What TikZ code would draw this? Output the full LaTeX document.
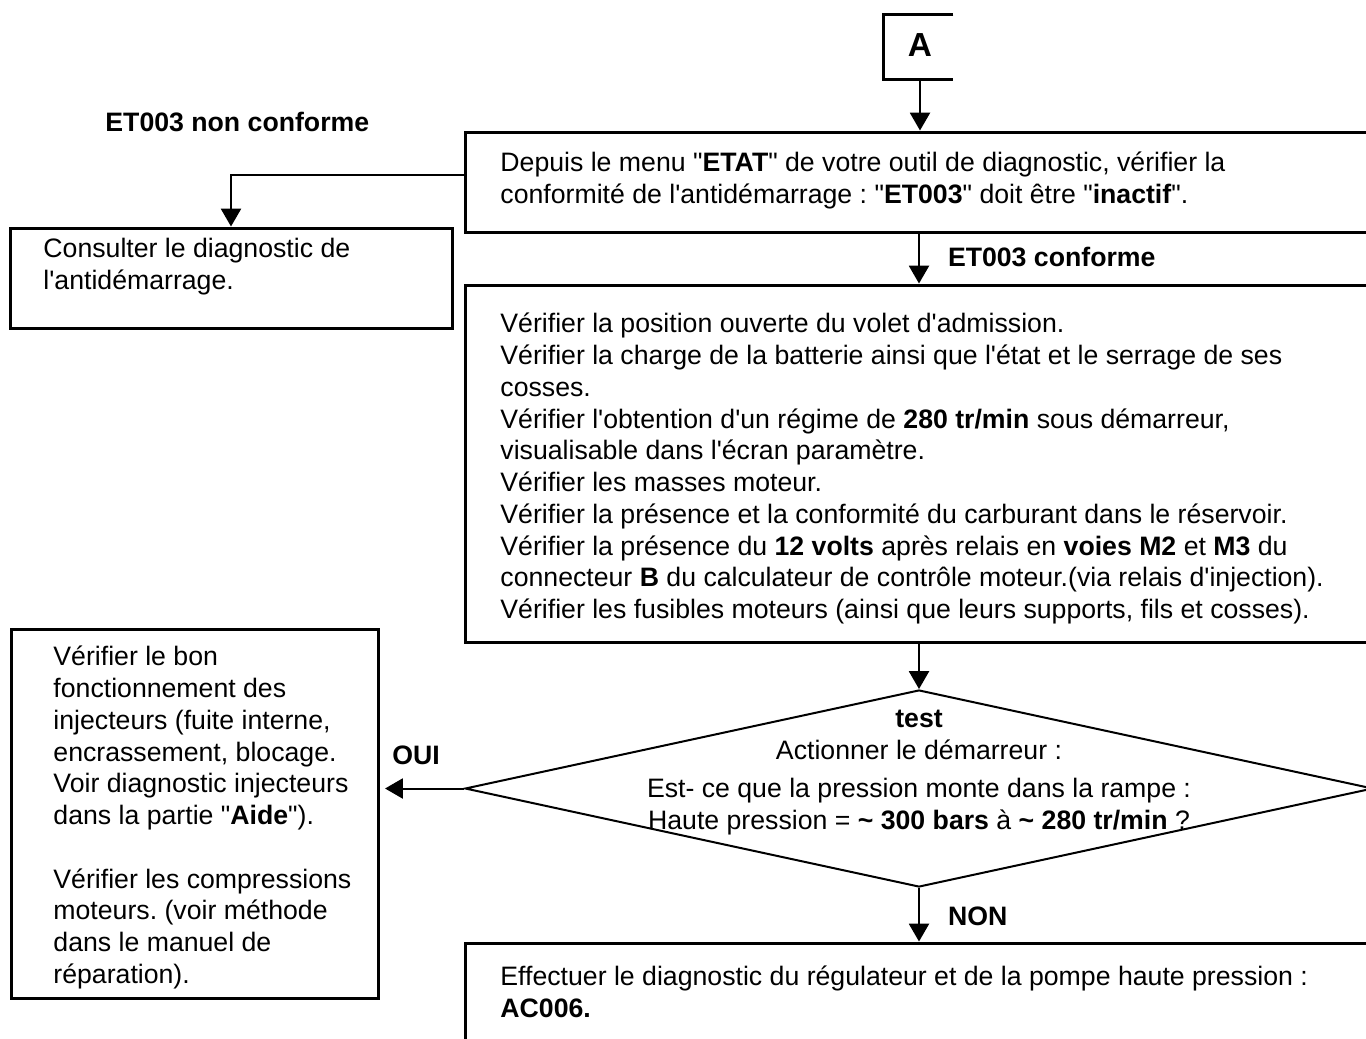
\documentclass[tikz,border=0pt]{standalone}
\usepackage{fontspec}
\setmainfont{Liberation Sans}[Ligatures=TeXOff]
\frenchspacing
\usetikzlibrary{shapes.geometric, arrows.meta, fit}

\begin{document}
\begin{tikzpicture}[
    % one unit = one pixel of the sheet, y downwards
    x=0.45pt, y=-0.45pt,
    font=\fontsize{12}{14.3}\selectfont,
    % Box styles
    frame/.style={
        draw=black,
        line width=1.35pt,
        inner sep=0pt
    },
    decision/.style={
        diamond,
        draw=black,
        line width=0.9pt,
        inner sep=0pt,
        minimum width=408.6pt,
        minimum height=88.65pt
    },
    body/.style={
        anchor=north west,
        align=left,
        inner sep=0pt
    },
    arrow/.style={
        line width=0.9pt,
        -{Triangle[length=8pt, width=9pt]}
    },
    tag/.style={
        font=\fontsize{12}{14.3}\selectfont\bfseries,
        inner sep=0pt
    }
]
\useasboundingbox (0,0) rectangle (1366,1039);
\clip (0,0) rectangle (1366,1039);

% --- Nodes ---

% Entry point
\node (start) [fit={(884,15) (953,79)}, inner sep=0pt] {};
\node (start_txt) [inner sep=0pt, font=\fontsize{15}{18}\selectfont\bfseries] at (920,45) {A};
\draw [line width=1.35pt] (start.north east) -- (start.north west) -- (start.south west) -- (start.south east);

% Immobiliser check
\node (check) [frame, fit={(465,132) (1400,232)}] {};
\node (check_txt) [body] at (500,149) {\strut Depuis le menu "\textbf{ETAT}" de votre outil de diagnostic, vérifier la\\
    conformité de l'antidémarrage : "\textbf{ET003}" doit être "\textbf{inactif}".};

\node (nok) [tag, anchor=base west] at (105,131) {ET003 non conforme};

\node (immo) [frame, fit={(10,228) (452,328)}] {};
\node (immo_txt) [body] at (43,235) {\strut Consulter le diagnostic de\\
    l'antidémarrage.};

% Basic checks
\node (verif) [frame, fit={(465,285) (1400,642)}] {};
\node (verif_txt) [body] at (500,310) {\strut Vérifier la position ouverte du volet d'admission.\\
    Vérifier la charge de la batterie ainsi que l'état et le serrage de ses\\
    cosses.\\
    Vérifier l'obtention d'un régime de \textbf{280 tr/min} sous démarreur,\\
    visualisable dans l'écran paramètre.\\
    Vérifier les masses moteur.\\
    Vérifier la présence et la conformité du carburant dans le réservoir.\\
    Vérifier la présence du \textbf{12 volts} après relais en \textbf{voies M2} et \textbf{M3} du\\
    connecteur \textbf{B} du calculateur de contrôle moteur.(via relais d'injection).\\
    Vérifier les fusibles moteurs (ainsi que leurs supports, fils et cosses).};

% Pressure test
\node (test) [decision] at (919,788.5) {};
\node (test_txt) [anchor=north, align=center, inner sep=0pt] at (919,705) {\strut\textbf{test}\\
    Actionner le démarreur :\\[3pt]
    Est- ce que la pression monte dans la rampe :\\
    Haute pression = \textbf{\textasciitilde{} 300 bars} à \textbf{\textasciitilde{} 280 tr/min} ?};

% Injectors
\node (injec) [frame, fit={(11,629) (378,998)}] {};
\node (injec_txt) [body] at (53,643) {\strut Vérifier le bon\\
    fonctionnement des\\
    injecteurs (fuite interne,\\
    encrassement, blocage.\\
    Voir diagnostic injecteurs\\
    dans la partie "\textbf{Aide}").\\[14.3pt]
    Vérifier les compressions\\
    moteurs. (voir méthode\\
    dans le manuel de\\
    réparation).};

% Pump regulator
\node (regul) [frame, fit={(465,943) (1400,1080)}] {};
\node (regul_txt) [body] at (500,963) {\strut Effectuer le diagnostic du régulateur et de la pompe haute pression :\\
    \textbf{AC006.}};

% --- Edges ---
\draw [arrow] (start.south -| start_txt) -- (start_txt |- check.north);
\draw [arrow] ([yshift=3.15pt]check.west) -| (immo.north);
\draw [arrow] (check.south -| test) -- (verif.north -| test)
    node [tag, midway, anchor=west, xshift=12.6pt, yshift=0.9pt] {ET003 conforme};
\draw [arrow] (verif.south -| test.north) -- (test.north);
\draw [arrow, shorten >=2.5pt] (test.west) -- (test.west -| injec.east)
    node [tag, midway, above=10.4pt, xshift=-2.5pt] {OUI};
\draw [arrow] (test.south) -- (test.south |- regul.north)
    node [tag, midway, anchor=west, xshift=12.6pt, yshift=-0.9pt] {NON};

\end{tikzpicture}
\end{document}
